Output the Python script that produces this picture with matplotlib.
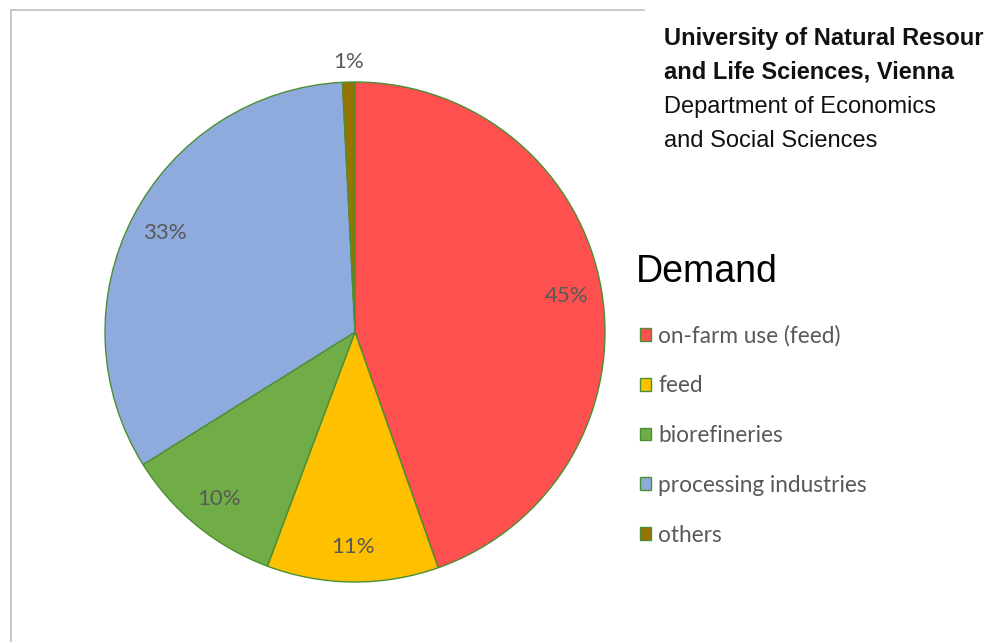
import matplotlib
matplotlib.use("Agg")
import matplotlib.pyplot as plt
import numpy as np
from matplotlib.lines import Line2D

categories = ["on-farm use (feed)", "feed", "biorefineries", "processing industries", "others"]
values = [44.6, 11.1, 10.4, 33.1, 0.8]
colors = ["#FF5050", "#FFC000", "#70AD47", "#8FAADC", "#997300"]
header_lines = ["University of Natural Resources", "and Life Sciences, Vienna",
                "Department of Economics", "and Social Sciences"]
header_bold = [True, True, False, False]
legend_title = "Demand"

narrow = ["Liberation Sans Narrow", "Liberation Sans", "DejaVu Sans"]
calib = ["Lato", "DejaVu Sans"]

fig = plt.figure(figsize=(9.84, 6.42), dpi=100)
W, H = 984, 642

# chart frame (top and left edges)
fig.add_artist(Line2D([11 / W, 11 / W], [0, 1 - 10 / H], color="#BFBFBF", lw=1.2))
fig.add_artist(Line2D([11 / W, 644 / W], [1 - 10 / H, 1 - 10 / H], color="#BFBFBF", lw=1.2))

cx, cy, r = 355, 332, 250
ax = fig.add_axes([(cx - r) / W, (H - cy - r) / H, 2 * r / W, 2 * r / H])
wedges, _ = ax.pie(values, colors=colors, startangle=90, counterclock=False,
                   wedgeprops=dict(edgecolor="#4A8F35", linewidth=1.0))
ax.set_xlim(-1, 1)
ax.set_ylim(-1, 1)
ax.set_aspect("equal")
ax.axis("off")

total = sum(values)
for w, v in zip(wedges, values):
    mid = np.deg2rad((w.theta1 + w.theta2) / 2)
    d = 0.86 if v / total > 0.05 else 1.08
    ax.text(d * np.cos(mid), d * np.sin(mid), f"{v / total * 100:.0f}%",
            ha="center", va="center", fontsize=16, color="#595959", family=calib)

for i, (line, b) in enumerate(zip(header_lines, header_bold)):
    fig.text(664 / W, 1 - (38 + 34.5 * i) / H, line, ha="left", va="center", fontsize=17,
             fontweight="bold" if b else "normal", family=narrow, color="#111111")

fig.text(636 / W, 1 - 272 / H, legend_title, ha="left", va="center", fontsize=27,
         family=narrow, color="#000000")

leg = fig.legend(wedges, categories, loc="upper left", bbox_to_anchor=(631 / W, 1 - 316 / H),
                 frameon=False, handlelength=0.5, handleheight=0.5, handletextpad=0.3,
                 labelspacing=1.27, prop=dict(family=calib, size=16.3), borderaxespad=0)
for t in leg.get_texts():
    t.set_color("#595959")

fig.savefig("out.png", dpi=100)
